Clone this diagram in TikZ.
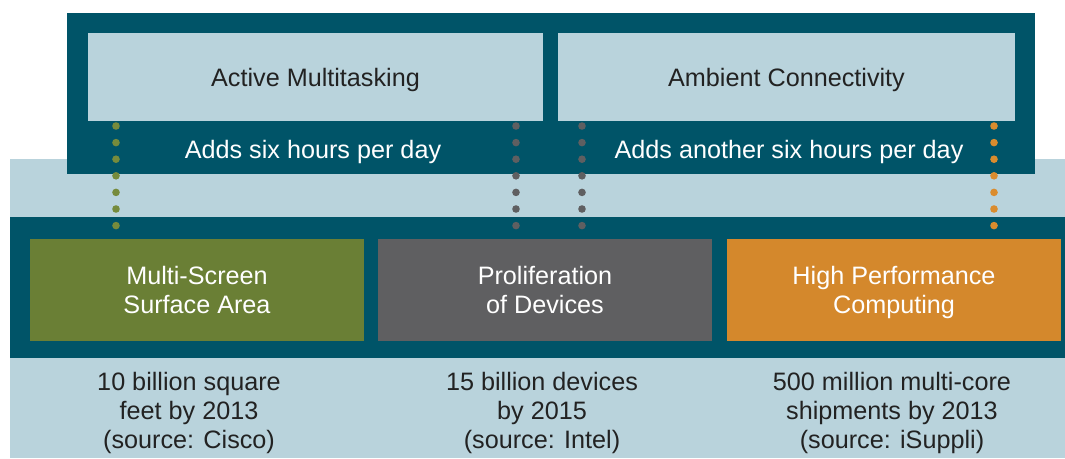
\documentclass[tikz,border=0pt]{standalone}
\usepackage{fontspec}
\setmainfont{Liberation Sans}
\definecolor{band}{HTML}{005468}
\definecolor{pale}{HTML}{B9D3DC}
\definecolor{olive}{HTML}{6A7F35}
\definecolor{slate}{HTML}{5F5F61}
\definecolor{amber}{HTML}{D4882C}
\definecolor{ink}{HTML}{222222}
\definecolor{olivedot}{HTML}{768B3C}
\definecolor{amberdot}{HTML}{DA8C2E}
\begin{document}
\begin{tikzpicture}[x=1pt,y=-1pt,
  every node/.style={inner sep=0pt, outer sep=0pt, font=\fontsize{25.2}{29}\selectfont},
  block/.style={anchor=north west, minimum width=#1, align=center, text depth=0pt},
  trend/.style={block=455pt, minimum height=88pt, fill=pale, text=ink},
  driver/.style={block=334pt, minimum height=102pt, text=white,
    execute at begin node={\rule{0pt}{24.5pt}}},
  plain/.style={text=white, text depth=0pt},
  note/.style={text=ink, align=center},
  dots/.style={draw=#1, line width=7.6pt, line cap=round, dash pattern=on 0pt off 16.6pt}
]
\useasboundingbox (0,0) rectangle (1065,458);
% background panels
\fill[pale] (10,159) rectangle (1065,458);
\fill[band] (67,13) rectangle (1035,174);
\fill[band] (10,217) rectangle (1065,358);

% upper row: usage trends
\node[trend] (ma) at (88,33) {Active Multitasking};
\node[trend, minimum width=457pt] (ac) at (558,33) {Ambient Connectivity};
\node[plain] (mat) at (313,149) {Adds six hours per day};
\node[plain] (act) at (789,149) {Adds another six hours per day};

% lower row: drivers
\node[driver, fill=olive] (ms) at (30,239) {Multi-Screen\\Surface Area};
\node[driver, fill=slate] (pd) at (378,239) {Proliferation\\of Devices};
\node[driver, fill=amber] (hp) at (727,239) {High Performance\\Computing};

% figures under each driver
\node[note] (msn) at (189,413) {10 billion square\\feet by 2013\\(source: Cisco)};
\node[note] (pdn) at (542,413) {15 billion devices\\by 2015\\(source: Intel)};
\node[note] (hpn) at (892,413) {500 million multi-core\\shipments by 2013\\(source: iSuppli)};

% dotted links between trends and drivers
\draw[dots=olivedot] ([xshift=28pt,yshift=-5pt]ma.south west) -- ([xshift=86pt,yshift=12.5pt]ms.north west);
\draw[dots=slate] ([xshift=-27pt,yshift=-5pt]ma.south east) -- ([xshift=138pt,yshift=12.5pt]pd.north west);
\draw[dots=slate] ([xshift=24pt,yshift=-5pt]ac.south west) -- ([xshift=-130pt,yshift=12.5pt]pd.north east);
\draw[dots=amberdot] ([xshift=-21pt,yshift=-5pt]ac.south east) -- ([xshift=-67pt,yshift=12.5pt]hp.north east);
\end{tikzpicture}
\end{document}
